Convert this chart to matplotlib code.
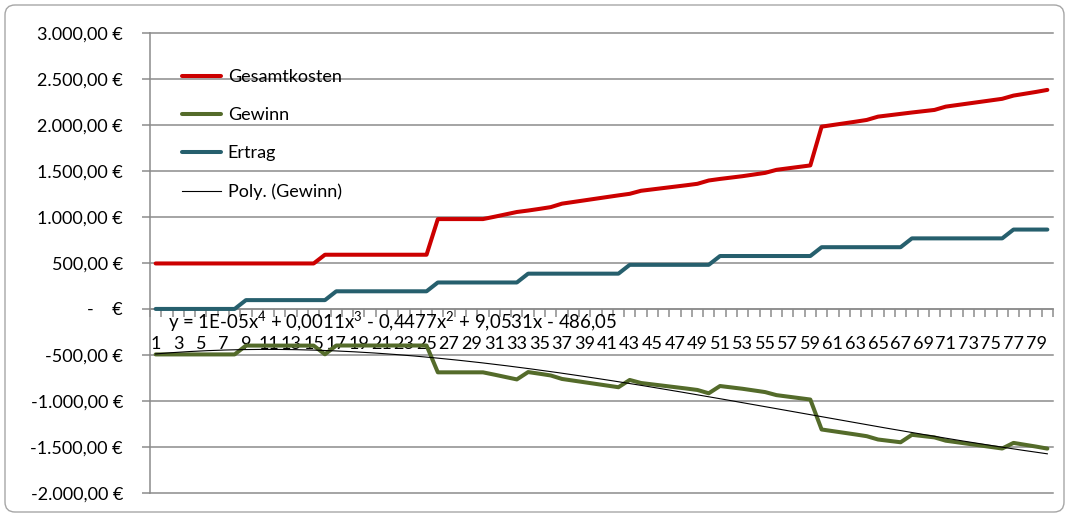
import numpy as np
import matplotlib
matplotlib.use("Agg")
import matplotlib.pyplot as plt
from matplotlib.patches import FancyBboxPatch
from matplotlib.transforms import IdentityTransform

plt.rcParams['font.family'] = ['Lato', 'DejaVu Sans']
plt.rcParams['mathtext.fontset'] = 'custom'
plt.rcParams['mathtext.rm'] = 'Lato'
plt.rcParams['mathtext.it'] = 'Lato:italic'
plt.rcParams['mathtext.bf'] = 'Lato:bold'

# Periods 1..80
periods = list(range(1, 81))

gesamtkosten = [
    495, 495, 495, 495, 495, 495, 495, 495, 495, 495,
    495, 495, 495, 495, 495, 590, 590, 590, 590, 590,
    590, 590, 590, 590, 590, 978, 978, 978, 978, 978,
    1003, 1029, 1055, 1071, 1089, 1108, 1146, 1164, 1182, 1200,
    1218, 1236, 1253, 1286, 1301, 1316, 1331, 1346, 1362, 1398,
    1415, 1430, 1445, 1463, 1481, 1514, 1530, 1546, 1562, 1984,
    2002, 2020, 2038, 2057, 2093, 2108, 2123, 2138, 2152, 2166,
    2202, 2219, 2236, 2253, 2270, 2287, 2322, 2342, 2362, 2384,
]

ertrag = [
    0, 0, 0, 0, 0, 0, 0, 0, 96, 96,
    96, 96, 96, 96, 96, 96, 192, 192, 192, 192,
    192, 192, 192, 192, 192, 288, 288, 288, 288, 288,
    288, 288, 288, 384, 384, 384, 384, 384, 384, 384,
    384, 384, 480, 480, 480, 480, 480, 480, 480, 480,
    576, 576, 576, 576, 576, 576, 576, 576, 576, 672,
    672, 672, 672, 672, 672, 672, 672, 768, 768, 768,
    768, 768, 768, 768, 768, 768, 864, 864, 864, 864,
]

gewinn = [
    -495, -495, -495, -495, -495, -495, -495, -495, -399, -399,
    -399, -399, -399, -399, -399, -494, -398, -398, -398, -398,
    -398, -398, -398, -398, -398, -690, -690, -690, -690, -690,
    -715, -741, -767, -687, -705, -724, -762, -780, -798, -816,
    -834, -852, -773, -806, -821, -836, -851, -866, -882, -918,
    -839, -854, -869, -887, -905, -938, -954, -970, -986, -1312,
    -1330, -1348, -1366, -1385, -1421, -1436, -1451, -1370, -1384, -1398,
    -1434, -1451, -1468, -1485, -1502, -1519, -1458, -1478, -1498, -1520,
]

y_ticks = [-2000, -1500, -1000, -500, 0, 500, 1000, 1500, 2000, 2500, 3000]
y_tick_labels = ['-2.000,00 €', '-1.500,00 €', '-1.000,00 €', '-500,00 €', '-    €',
                 '500,00 €', '1.000,00 €', '1.500,00 €', '2.000,00 €', '2.500,00 €',
                 '3.000,00 €']
x_label_periods = periods[::2]
trend_label = ('y = 1E-05x$^{4}$ + 0,0011x$^{3}$ - 0,4477x$^{2}$ '
               '+ 9,0531x - 486,05')

W, H = 1069, 517
GRID = '#8C8C8C'
FS = 13

fig = plt.figure(figsize=(W / 100, H / 100), dpi=100)
ax = fig.add_axes([150 / W, 1 - 492.7 / H, 903 / W, 459.4 / H])

ax.set_xlim(0.5, 80.5)
ax.set_ylim(-2000, 3000)

# horizontal gridlines
ax.set_yticks(y_ticks)
ax.set_yticklabels(y_tick_labels)
ax.yaxis.grid(True, color=GRID, lw=1.1)
ax.set_axisbelow(True)
for gl in ax.get_ygridlines():
    gl.set_clip_on(False)

for side in ('top', 'right'):
    ax.spines[side].set_visible(False)
ax.spines['left'].set_color(GRID)
ax.spines['left'].set_linewidth(1.1)
ax.spines['bottom'].set_position(('data', 0))
ax.spines['bottom'].set_color(GRID)
ax.spines['bottom'].set_linewidth(1.1)

ax.tick_params(axis='y', length=6, width=1.1, color=GRID, pad=13.5,
               labelsize=FS, labelcolor='black')

# category axis: tick marks between categories, labels on every other category
ax.set_xticks(np.arange(0.5, 81, 1.0))
ax.tick_params(axis='x', which='major', length=5.5, width=1.1, color=GRID,
               direction='out', labelbottom=False)
ax.set_xticks(x_label_periods, minor=True)
ax.set_xticklabels([str(p) for p in x_label_periods], minor=True)
ax.tick_params(axis='x', which='minor', length=0, pad=19.5, labelsize=FS,
               labelcolor='black')

ax.plot(periods, gesamtkosten, color='#CC0000', lw=2.9, label='Gesamtkosten',
        solid_joinstyle='round', solid_capstyle='round', zorder=3)
ax.plot(periods, gewinn, color='#546B2A', lw=2.9, label='Gewinn',
        solid_joinstyle='round', solid_capstyle='round', zorder=3)
ax.plot(periods, ertrag, color='#265F6D', lw=2.9, label='Ertrag',
        solid_joinstyle='round', solid_capstyle='round', zorder=3)

# 4th-order polynomial trend of Gewinn
coeffs = np.polyfit(periods, gewinn, 4)
xs = np.linspace(1, 80, 400)
ax.plot(xs, np.polyval(coeffs, xs), color='black', lw=0.8,
        label='Poly. (Gewinn)', zorder=4)

ax.legend(loc='upper left', bbox_to_anchor=(182 / W, 1 - 69 / H),
          bbox_transform=fig.transFigure, frameon=False, borderpad=0,
          borderaxespad=0, handlelength=2.15, handletextpad=0.38,
          labelspacing=1.23, fontsize=FS)

fig.text(168 / W, 1 - 328.7 / H, trend_label, fontsize=13.4, va='baseline',
         ha='left', color='black')

# rounded chart border
border = FancyBboxPatch((5, 5), 1059, 507,
                        boxstyle='round,pad=0,rounding_size=10',
                        transform=IdentityTransform(), fc='none',
                        ec='#A6A6A6', lw=1.0)
fig.patches.append(border)

fig.savefig('out.png', dpi=100)
